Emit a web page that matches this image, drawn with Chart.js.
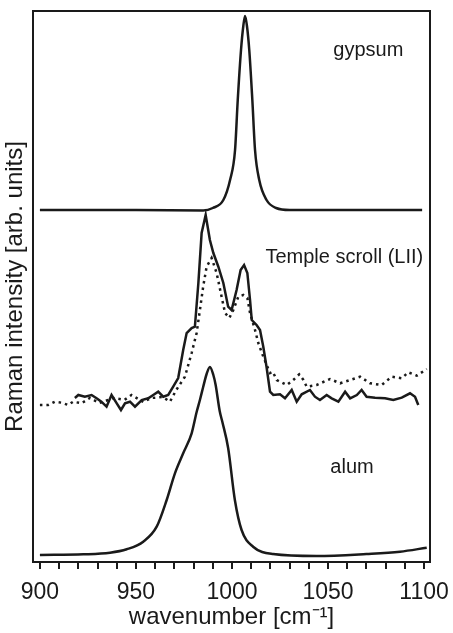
<!DOCTYPE html>
<html>
<head>
<meta charset="utf-8">
<title>Raman spectra</title>
<script src="https://cdn.jsdelivr.net/npm/chart.js@4.4.1/dist/chart.umd.min.js"></script>
<style>
  html, body { margin: 0; padding: 0; background: #fff; }
  #wrap { width: 453px; height: 633px; }
</style>
</head>
<body>
<div id="wrap"><canvas id="ramanChart" width="453" height="633"></canvas></div>
<script>
// Spectra (intensity in arb. units, offset per trace)
const gypsumX = [900, 950, 985, 990, 995.5, 999, 1001.6, 1003, 1004.7, 1005.9, 1006.8, 1007.8, 1009, 1010.6, 1012, 1014.2, 1018, 1023, 1030, 1060, 1099];
const gypsumY = [352, 352, 351.5, 354, 362, 382, 412, 462, 512, 536, 546, 536, 512, 462, 412, 382, 362, 354, 352, 352, 352];

const scrollX = [918.2, 920, 923.4, 926.9, 929.5, 932, 934.7, 937.3, 940, 942.2, 944.3, 946.9, 949.5, 953, 956.4, 959, 961.6, 964.2, 966.8, 969.4,
  972, 974.6, 976.4, 979, 980.7, 982.5, 984.2, 986.3, 988.5, 990.3, 992.9, 995.5, 998, 999.8, 1002.4, 1004.5, 1006.3, 1008, 1009.4, 1010.3,
  1012.8, 1014.6, 1016.3, 1018, 1019.8, 1021.5, 1025, 1027.6, 1031.1, 1033.7, 1036.3, 1040.6, 1043.2, 1045.8, 1049.3, 1051.9, 1055.4, 1058.9, 1061.5, 1065,
  1067.5, 1070.1, 1074.5, 1079.7, 1084, 1088.4, 1092.7, 1095.3, 1097];
const scrollY = [164, 167, 165.3, 167, 163.7, 160.3, 155.3, 167, 158.7, 152, 158.7, 160.3, 155.3, 162, 163.7, 167, 170.3, 165.3, 167, 175.3,
  184, 212, 229, 234, 235.3, 279, 329, 347, 322, 309, 295.3, 279, 255.3, 252, 272, 292, 297, 289, 262, 242,
  237, 232, 215.3, 195, 170.3, 167, 167.7, 163.7, 172, 160.3, 167.7, 172, 165.3, 162, 167, 163.7, 160.3, 170.3, 163.7, 167,
  172, 165.3, 164.3, 163.7, 162, 164.3, 168.7, 165.3, 157];

const scrollDotX = [900, 904.3, 907.8, 911.3, 914.7, 917.3, 921.7, 926, 931, 938.5, 944, 947.7, 953.8, 958, 964, 967.7, 971, 975.5, 979, 981.6,
  983.3, 985, 986.8, 989.4, 992, 994.6, 996.4, 998.6, 1000.7, 1003.3, 1005.9, 1008, 1009.4, 1012, 1013.7, 1016.3, 1019.8, 1021.2, 1023.3, 1028.5,
  1031.9, 1035, 1037.2, 1038.9, 1044.1, 1051, 1056.3, 1061.5, 1066.7, 1071.9, 1077.9, 1083.2, 1088.4, 1091.8, 1096.2, 1101.4];
const scrollDotY = [157, 157, 160.3, 159.3, 157, 160.3, 158.7, 164, 159, 164, 162, 167, 160, 164, 165, 160.3, 172, 185.3, 209, 229,
  252, 275.3, 295.3, 304, 289, 265.3, 249, 244, 252, 265.3, 267, 264, 249, 232, 219, 205.3, 189, 190.3, 182, 177,
  182, 187.7, 182, 175.3, 177, 183, 178.7, 182, 185.3, 178.7, 177, 185.3, 183.7, 189.7, 186.3, 193];

const alumX = [900, 922.6, 936.5, 945.2, 953.8, 960.8, 966, 970.3, 974.6, 979, 981.6, 983.3, 985, 986.8, 988.5, 990.3, 991.5, 993.6, 995, 998,
  1001.5, 1005, 1011, 1021.4, 1044, 1070, 1087.5, 1101.4];
const alumY = [7, 7.7, 9.3, 12.7, 20.3, 35.3, 62, 88.7, 108.7, 128.7, 150, 162, 175, 188, 195, 187, 177, 151, 140, 114,
  62, 32, 15.3, 8, 6, 8, 10.3, 14.3];

const xTicksLabelled = [900, 950, 1000, 1050, 1100];

// trace labels: [text, wavenumber, intensity]
const traceLabels = [
  ['gypsum', 1071, 512],
  ['Temple scroll (LII)', 1058.5, 305],
  ['alum', 1062.5, 95]
];

function toPoints(xs, ys) {
  return xs.map((x, i) => ({ x: x, y: ys[i] }));
}

const ink = '#1a1a1a';
const fontFamily = '"Liberation Sans", Arial, sans-serif';

// box around the plot area + trace labels
const framePlugin = {
  id: 'frame',
  afterDatasetsDraw(chart) {
    const c = chart.ctx;
    const a = chart.chartArea;
    c.save();
    c.strokeStyle = ink;
    c.lineWidth = 2;
    c.strokeRect(a.left, a.top, a.right - a.left, a.bottom - a.top);
    c.fillStyle = ink;
    c.font = '20px ' + fontFamily;
    c.textAlign = 'center';
    c.textBaseline = 'middle';
    traceLabels.forEach(l => {
      c.fillText(l[0], chart.scales.x.getPixelForValue(l[1]), chart.scales.y.getPixelForValue(l[2]));
    });
    c.restore();
  }
};

const ctx = document.getElementById('ramanChart').getContext('2d');
const ramanChart = new Chart(ctx, {
  type: 'line',
  data: {
    datasets: [
      { label: 'gypsum', data: toPoints(gypsumX, gypsumY), borderColor: ink, borderWidth: 2.5, cubicInterpolationMode: 'monotone' },
      { label: 'Temple scroll (LII)', data: toPoints(scrollX, scrollY), borderColor: ink, borderWidth: 2.5, tension: 0 },
      { label: 'Temple scroll (LII) dotted', data: toPoints(scrollDotX, scrollDotY), borderColor: ink, borderWidth: 2.5, borderDash: [2.5, 4], tension: 0 },
      { label: 'alum', data: toPoints(alumX, alumY), borderColor: ink, borderWidth: 2.5, cubicInterpolationMode: 'monotone' }
    ]
  },
  options: {
    responsive: false,
    animation: false,
    events: [],
    layout: { padding: { top: 11, right: 23, left: 0, bottom: 0 } },
    elements: { point: { radius: 0 }, line: { fill: false } },
    plugins: { legend: { display: false }, tooltip: { enabled: false } },
    scales: {
      x: {
        type: 'linear',
        min: 896.4,
        max: 1103.1,
        afterFit(scale) {
          scale.height = 71;
          scale.paddingLeft = 0;
          scale.paddingRight = 0;
        },
        border: { display: true, color: ink, width: 2 },
        grid: { drawOnChartArea: false, drawTicks: true, tickLength: 7, color: ink, lineWidth: 2 },
        ticks: {
          stepSize: 10,
          includeBounds: false,
          autoSkip: false,
          maxRotation: 0,
          padding: 10,
          color: ink,
          font: { size: 23, family: fontFamily },
          callback: v => xTicksLabelled.includes(v) ? String(v) : ''
        },
        title: {
          display: true,
          text: 'wavenumber [cm⁻¹]',
          color: ink,
          font: { size: 24, family: fontFamily },
          padding: { top: 0, bottom: 1 }
        }
      },
      y: {
        type: 'linear',
        min: 0,
        max: 551,
        afterFit(scale) { scale.width = 33; },
        border: { display: true, color: ink, width: 2 },
        grid: { display: false },
        ticks: { display: false },
        title: {
          display: true,
          text: 'Raman intensity [arb. units]',
          color: ink,
          font: { size: 24, family: fontFamily },
          padding: { top: 1, bottom: 0 }
        }
      }
    }
  },
  plugins: [framePlugin]
});
</script>
</body>
</html>
